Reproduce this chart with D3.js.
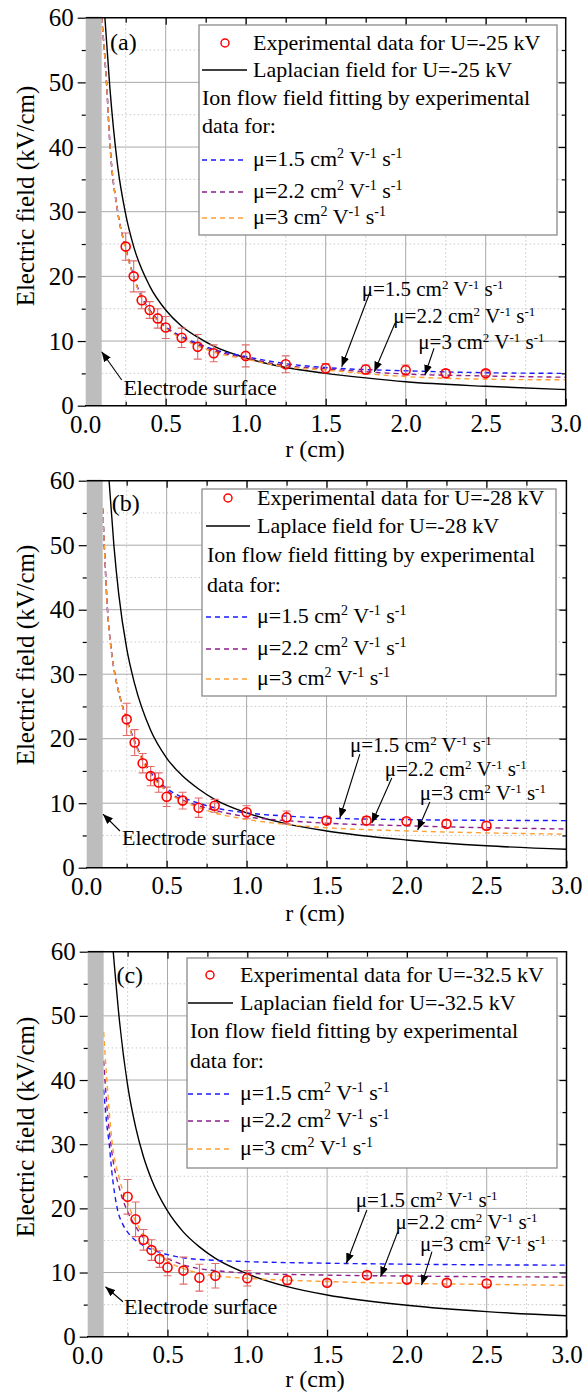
<!DOCTYPE html>
<html>
<head>
<meta charset="utf-8">
<script src="https://cdnjs.cloudflare.com/ajax/libs/d3/7.8.5/d3.min.js"></script>
<style>
body { margin: 0; background: #fff; }
text { font-family: "Liberation Serif", "Times New Roman", serif; fill: #000; white-space: pre; }
</style>
</head>
<body>
<script>
const W = 584, H = 1393;

// ticks
const xMajor = [0, 0.5, 1.0, 1.5, 2.0, 2.5, 3.0];
const xMinor = [0.25, 0.75, 1.25, 1.75, 2.25, 2.75];
const yMajor = [0, 10, 20, 30, 40, 50, 60];
const yMinor = [5, 15, 25, 35, 45, 55];

// experimental points (same radii in all three panels)
const rExp = [0.25, 0.3, 0.35, 0.4, 0.45, 0.5, 0.6, 0.7, 0.8, 1.0, 1.25, 1.5, 1.75, 2.0, 2.25, 2.5];
const expA = [24.6, 20.0, 16.3, 14.8, 13.5, 12.1, 10.5, 9.1, 8.1, 7.7, 6.4, 5.8, 5.6, 5.5, 5.0, 5.0];
const errA = [2.1, 2.4, 1.3, 1.3, 1.5, 1.7, 1.5, 1.9, 1.3, 1.7, 1.3, 0.7, 0.7, 0.8, 0.6, 0.4];
const expB = [23.0, 19.4, 16.2, 14.2, 13.2, 11.0, 10.4, 9.3, 9.6, 8.6, 7.8, 7.3, 7.3, 7.2, 6.8, 6.5];
const errB = [2.5, 2.0, 1.5, 1.5, 1.5, 1.5, 1.3, 1.5, 1.0, 1.0, 1.0, 0.6, 0.6, 0.5, 0.6, 0.6];
const expC = [21.8, 18.3, 15.1, 13.5, 12.1, 10.8, 10.3, 9.2, 9.5, 9.1, 8.8, 8.4, 9.6, 8.9, 8.4, 8.3];
const errC = [2.7, 2.7, 1.6, 1.6, 1.3, 1.3, 2.1, 2.1, 1.9, 1.2, 0.6, 0.5, 0.5, 0.5, 0.5, 0.5];

// Laplacian field curves
const lapRA = [0.12, 0.15, 0.2, 0.25, 0.3, 0.4, 0.5, 0.6, 0.7, 0.8, 1.0, 1.25, 1.5, 1.75, 2.0, 2.5, 3.0];
const lapA  = [60, 49.5, 37, 29.6, 24.6, 18.5, 14.8, 12.3, 10.6, 9.2, 7.4, 5.9, 5.0, 4.3, 3.7, 3.0, 2.5];
const lapRB = [0.14, 0.17, 0.2, 0.25, 0.3, 0.4, 0.5, 0.6, 0.7, 0.8, 1.0, 1.25, 1.5, 2.0, 2.5, 3.0];
const lapB  = [60, 50, 42.5, 34, 28.5, 21.3, 17.0, 14.2, 12.2, 10.6, 8.5, 6.8, 5.7, 4.3, 3.4, 2.85];
const lapRC = [0.16, 0.2, 0.25, 0.3, 0.35, 0.4, 0.5, 0.6, 0.7, 0.8, 1.0, 1.25, 1.5, 2.0, 2.5, 3.0];
const lapC  = [60, 49, 39.2, 32.7, 28, 24.5, 19.6, 16.3, 14, 12.2, 9.8, 7.8, 6.5, 4.9, 3.9, 3.27];

// ion flow fits, mu = 1.5 / 2.2 / 3
const fitRA  = [0.1, 0.13, 0.15, 0.2, 0.25, 0.3, 0.35, 0.4, 0.5, 0.6, 0.7, 0.8, 1.0, 1.25, 1.5, 2.0, 2.5, 3.0];
const fit15A = [60, 50, 41, 30, 24.4, 20.0, 16.8, 14.8, 12.2, 10.7, 9.6, 8.7, 7.6, 6.5, 5.9, 5.4, 5.1, 5.0];
const fit22A = [60, 50, 41, 30, 24.3, 19.9, 16.7, 14.7, 12.1, 10.5, 9.4, 8.5, 7.4, 6.2, 5.7, 4.9, 4.6, 4.4];
const fit3A  = [60, 50, 41, 30, 24.2, 19.8, 16.6, 14.6, 12.0, 10.4, 9.2, 8.3, 7.2, 6.0, 5.5, 4.5, 4.1, 4.0];

const fitRB  = [0.1, 0.11, 0.13, 0.15, 0.18, 0.21, 0.25, 0.3, 0.35, 0.4, 0.5, 0.6, 0.7, 0.8, 1.0, 1.25, 1.5, 2.0, 2.5, 3.0];
const fit15B = [55.7, 50, 40, 34.5, 29.5, 26.3, 23.0, 19.6, 16.8, 14.8, 12.3, 10.9, 10.0, 9.3, 8.5, 8.0, 7.7, 7.45, 7.35, 7.3];
const fit22B = [55.7, 50, 40, 34.5, 29.5, 26.3, 22.9, 19.5, 16.6, 14.6, 12.0, 10.5, 9.6, 8.9, 7.9, 7.3, 6.9, 6.5, 6.2, 6.0];
const fit3B  = [55.7, 50, 40, 34.5, 29.5, 26.3, 22.8, 19.4, 16.5, 14.5, 11.8, 10.3, 9.3, 8.5, 7.5, 6.7, 6.2, 5.7, 5.4, 5.2];

const fitR15C = [0.1, 0.12, 0.135, 0.15, 0.185, 0.22, 0.25, 0.3, 0.35, 0.4, 0.5, 0.6, 0.8, 1.0, 1.5, 2.0, 2.5, 3.0];
const fit15C  = [38.5, 33, 30, 26, 20, 17.5, 16.3, 15.0, 14.2, 13.6, 12.8, 12.3, 11.9, 11.7, 11.45, 11.3, 11.2, 11.15];
const fitR22C = [0.1, 0.12, 0.15, 0.2, 0.25, 0.3, 0.35, 0.4, 0.5, 0.6, 0.7, 0.8, 1.0, 1.5, 2.0, 2.5, 3.0];
const fit22C  = [43, 36, 29, 23, 19.5, 17.2, 15.4, 14.0, 12.2, 11.2, 10.6, 10.3, 9.9, 9.6, 9.45, 9.35, 9.3];
const fitR3C  = [0.1, 0.12, 0.15, 0.2, 0.25, 0.3, 0.35, 0.4, 0.5, 0.6, 0.7, 0.8, 1.0, 1.25, 1.5, 2.0, 2.5, 3.0];
const fit3C   = [47.5, 40, 31, 24.5, 20.8, 18.0, 15.8, 14.0, 11.8, 10.6, 9.9, 9.5, 9.1, 8.8, 8.6, 8.3, 8.15, 8.0];

const mobility = ['1.5', '2.2', '3'];
const fitColors = ['#1a1aff', '#8b1f8b', '#ffa033'];

const panels = [
  { tag: '(a)', tagAt: [0.1525, 55], U: '-25', lapName: 'Laplacian',
    exp: expA, err: errA, lap: [lapRA, lapA],
    fits: [[fitRA, fit15A], [fitRA, fit22A], [fitRA, fit3A]],
    muText: [[1.725, 16.95], [1.9225, 12.79], [2.079, 8.77]],
    muFrom: [[1.777, 17.58], [1.933, 12.74], [2.177, 8.88]],
    muTo:   [[1.6, 6.03], [1.804, 5.26], [2.12, 4.75]],
    elText: [0.2356, 1.65], elFrom: [0.225, 3.97], elTo: [0.1, 8.35],
    box: { l: 85.7, r: 565.7, t: 17.7, b: 405.7 }, xTitleY: 457, yTitleY: 196,
    leg: { x: 199, y: 25, w: 358, h: 210, rows: [25, 52, 80, 108, 141, 173, 199], mk: 26, l0: 3, l1: 48, tx: 54, ion: 3 } },
  { tag: '(b)', tagAt: [0.156, 55.3], U: '-28', lapName: 'Laplace',
    exp: expB, err: errB, lap: [lapRB, lapB],
    fits: [[fitRB, fit15B], [fitRB, fit22B], [fitRB, fit3B]],
    muText: [[1.646, 17.94], [1.864, 14.23], [2.083, 10.5]],
    muFrom: [[1.708, 17.6], [1.908, 13.9], [2.146, 10.19]],
    muTo:   [[1.583, 7.7], [1.783, 6.93], [2.07, 5.84]],
    elText: [0.2206, 3.53], elFrom: [0.208, 5.69], elTo: [0.102, 8.3],
    box: { l: 86.7, r: 566.4, t: 480.7, b: 867.7 }, xTitleY: 921, yTitleY: 655,
    leg: { x: 202, y: 489, w: 354, h: 207, rows: [16, 44, 73, 103, 134, 166, 196], mk: 26, l0: 4, l1: 48, tx: 55, ion: 5 } },
  { tag: '(c)', tagAt: [0.18, 55.1], U: '-32.5', lapName: 'Laplacian',
    exp: expC, err: errC, lap: [lapRC, lapC],
    fits: [[fitR15C, fit15C], [fitR22C, fit22C], [fitR3C, fit3C]],
    muText: [[1.679, 20.21], [1.929, 16.78], [2.082, 13.36]],
    muFrom: [[1.749, 19.74], [1.943, 16.36], [2.157, 13.25]],
    muTo:   [[1.621, 11.44], [1.835, 9.35], [2.092, 8.06]],
    elText: [0.227, 3.54], elFrom: [0.221, 5.45], elTo: [0.111, 7.79],
    box: { l: 87.7, r: 566.5, t: 951.7, b: 1336.7 }, xTitleY: 1387, yTitleY: 1127,
    leg: { x: 187, y: 958, w: 370, h: 210, rows: [24, 52, 80, 110, 142, 169, 197], mk: 23, l0: 1, l1: 46, tx: 53, ion: 3 } }
];

const svg = d3.select('body').append('svg').attr('width', W).attr('height', H);
svg.append('defs').append('marker')
  .attr('id', 'arrow').attr('viewBox', '0 0 10 8').attr('refX', 10).attr('refY', 4)
  .attr('markerWidth', 10).attr('markerHeight', 8).attr('markerUnits', 'userSpaceOnUse')
  .attr('orient', 'auto')
  .append('path').attr('d', 'M0,0L10,4L0,8Z').attr('fill', '#000');

// "mu=1.5 cm2 V-1 s-1" with superscripts
function muLabel(t, val, size) {
  const parts = [['μ=' + val + ' cm', 0], ['2', 1], [' V', 0], ['-1', 1], [' s', 0], ['-1', 1]];
  const sh = Math.round(size * 0.35);
  let up = false;
  parts.forEach(([s, sup]) => {
    const ts = t.append('tspan').text(s);
    if (sup) { ts.attr('font-size', Math.round(size * 0.64)).attr('dy', up ? 0 : -sh); up = true; }
    else { ts.attr('dy', up ? sh : 0); up = false; }
  });
}

function drawPanel(p, i) {
  const x = d3.scaleLinear().domain([0, 3]).range([p.box.l, p.box.r]);
  const y = d3.scaleLinear().domain([0, 60]).range([p.box.b, p.box.t]);
  const g = svg.append('g');
  const clipId = 'clip' + i;
  svg.select('defs').append('clipPath').attr('id', clipId)
    .append('rect').attr('x', x(0)).attr('y', y(60)).attr('width', x(3) - x(0)).attr('height', y(0) - y(60));

  // grid
  g.selectAll(null).data(xMinor).join('line')
    .attr('x1', d => x(d)).attr('x2', d => x(d)).attr('y1', y(0)).attr('y2', y(60))
    .attr('stroke', '#c8c8c8').attr('stroke-dasharray', '1.5,2.5');
  g.selectAll(null).data(yMinor).join('line')
    .attr('x1', x(0)).attr('x2', x(3)).attr('y1', d => y(d)).attr('y2', d => y(d))
    .attr('stroke', '#c8c8c8').attr('stroke-dasharray', '1.5,2.5');
  g.selectAll(null).data(xMajor.slice(1, -1)).join('line')
    .attr('x1', d => x(d)).attr('x2', d => x(d)).attr('y1', y(0)).attr('y2', y(60))
    .attr('stroke', '#a9a9a9').attr('stroke-width', 1);
  g.selectAll(null).data(yMajor.slice(1, -1)).join('line')
    .attr('x1', x(0)).attr('x2', x(3)).attr('y1', d => y(d)).attr('y2', d => y(d))
    .attr('stroke', '#a9a9a9').attr('stroke-width', 1);

  const line = d3.line().x(d => x(d[0])).y(d => y(d[1])).curve(d3.curveMonotoneX);
  const plot = g.append('g').attr('clip-path', `url(#${clipId})`);

  plot.append('path').attr('d', line(d3.zip(p.lap[0], p.lap[1])))
    .attr('fill', 'none').attr('stroke', '#000').attr('stroke-width', 1.4);
  p.fits.forEach((f, k) => {
    plot.append('path').attr('d', line(d3.zip(f[0], f[1])))
      .attr('fill', 'none').attr('stroke', fitColors[k]).attr('stroke-width', 1.4)
      .attr('stroke-dasharray', '5,4');
  });

  // error bars and points
  const pts = rExp.map((r, k) => ({ r, e: p.exp[k], s: p.err[k] }));
  const eb = plot.append('g').attr('stroke', '#e06a6a').attr('stroke-width', 1.1);
  eb.selectAll(null).data(pts).join('line')
    .attr('x1', d => x(d.r)).attr('x2', d => x(d.r))
    .attr('y1', d => y(d.e - d.s)).attr('y2', d => y(d.e + d.s));
  [1, -1].forEach(sg => {
    eb.selectAll(null).data(pts).join('line')
      .attr('x1', d => x(d.r) - 4).attr('x2', d => x(d.r) + 4)
      .attr('y1', d => y(d.e + sg * d.s)).attr('y2', d => y(d.e + sg * d.s));
  });
  plot.selectAll(null).data(pts).join('circle')
    .attr('cx', d => x(d.r)).attr('cy', d => y(d.e)).attr('r', 4.5)
    .attr('fill', 'none').attr('stroke', '#ff0000').attr('stroke-width', 1.6);

  // electrode (r < 0.1 cm)
  g.append('rect').attr('x', x(0)).attr('y', y(60) - 1).attr('width', x(0.1) - x(0))
    .attr('height', y(0) - y(60) + 1).attr('fill', '#bdbdbd');

  // frame
  const fr = g.append('g').attr('stroke', '#000').attr('stroke-width', 1.5);
  fr.append('line').attr('x1', x(0) - 0.7).attr('x2', x(3) + 0.7).attr('y1', y(0)).attr('y2', y(0));
  fr.append('line').attr('x1', x(0)).attr('x2', x(3) + 0.7).attr('y1', y(60)).attr('y2', y(60));
  fr.append('line').attr('x1', x(3)).attr('x2', x(3)).attr('y1', y(60)).attr('y2', y(0));

  // axes
  const font = a => a.attr('font-family', '"Liberation Serif", "Times New Roman", serif').attr('font-size', 25);
  const clean = a => { a.select('.domain').remove(); a.selectAll('.tick line').attr('stroke-width', 1.2); };
  g.append('g').attr('transform', `translate(${x(0)},0)`)
    .call(d3.axisLeft(y).tickValues(yMajor).tickSize(8).tickPadding(4).tickFormat(d3.format('d')))
    .call(clean).call(font);
  g.append('g').attr('transform', `translate(${x(0)},0)`)
    .call(d3.axisLeft(y).tickValues(yMinor).tickSize(4).tickFormat('')).call(clean);
  g.append('g').attr('transform', `translate(0,${y(0)})`)
    .call(d3.axisBottom(x).tickValues(xMajor.slice(1)).tickSizeInner(-7).tickSizeOuter(0).tickPadding(9).tickFormat(d3.format('.1f')))
    .call(clean).call(font);
  g.append('text').attr('x', x(0)).attr('y', y(0) + 27).attr('text-anchor', 'middle')
    .attr('font-size', 25).text('0.0');
  g.append('g').attr('transform', `translate(0,${y(0)})`)
    .call(d3.axisBottom(x).tickValues(xMinor).tickSizeInner(-4).tickSizeOuter(0).tickFormat('')).call(clean);
  g.append('g').attr('transform', `translate(0,${y(60)})`)
    .call(d3.axisTop(x).tickValues(xMajor.slice(1, -1)).tickSizeInner(-7).tickSizeOuter(0).tickFormat('')).call(clean);
  g.append('g').attr('transform', `translate(0,${y(60)})`)
    .call(d3.axisTop(x).tickValues(xMinor).tickSizeInner(-5).tickSizeOuter(0).tickFormat('')).call(clean);
  g.append('g').attr('transform', `translate(${x(3)},0)`)
    .call(d3.axisRight(y).tickValues(yMajor.slice(1, -1)).tickSizeInner(-7).tickSizeOuter(0).tickFormat('')).call(clean);
  g.append('g').attr('transform', `translate(${x(3)},0)`)
    .call(d3.axisRight(y).tickValues(yMinor).tickSizeInner(-4).tickSizeOuter(0).tickFormat('')).call(clean);

  // titles
  g.append('text').attr('x', 315).attr('y', p.xTitleY).attr('text-anchor', 'middle')
    .attr('font-size', 24).text('r (cm)');
  g.append('text').attr('transform', `translate(25,${p.yTitleY}) rotate(-90)`)
    .attr('text-anchor', 'middle').attr('dominant-baseline', 'central')
    .attr('font-size', 25).text('Electric field (kV/cm)');
  g.append('text').attr('x', x(p.tagAt[0])).attr('y', y(p.tagAt[1])).attr('font-size', 24).text(p.tag);

  // legend
  const L = p.leg;
  const lg = g.append('g').attr('transform', `translate(${L.x},${L.y})`);
  lg.append('rect').attr('width', L.w).attr('height', L.h).attr('fill', '#fff')
    .attr('stroke', '#8a8a8a').attr('stroke-width', 1.3);
  const tx = (row, xx) => lg.append('text').attr('x', xx).attr('y', L.rows[row]).attr('font-size', 22);
  lg.append('circle').attr('cx', L.mk).attr('cy', L.rows[0] - 7).attr('r', 4)
    .attr('fill', 'none').attr('stroke', '#ff0000').attr('stroke-width', 1.5);
  tx(0, L.tx).text(`Experimental data for U=${p.U} kV`);
  lg.append('line').attr('x1', L.l0).attr('x2', L.l1).attr('y1', L.rows[1] - 7).attr('y2', L.rows[1] - 7)
    .attr('stroke', '#000').attr('stroke-width', 1.4);
  tx(1, L.tx).text(`${p.lapName} field for U=${p.U} kV`);
  tx(2, L.ion).text('Ion flow field fitting by experimental');
  tx(3, L.ion).text('data for:');
  mobility.forEach((m, k) => {
    lg.append('line').attr('x1', L.l0).attr('x2', L.l1).attr('y1', L.rows[4 + k] - 6).attr('y2', L.rows[4 + k] - 6)
      .attr('stroke', fitColors[k]).attr('stroke-width', 1.4).attr('stroke-dasharray', '5,4');
    muLabel(tx(4 + k, L.tx), m, 22);
  });

  // curve annotations
  mobility.forEach((m, k) => {
    muLabel(g.append('text').attr('x', x(p.muText[k][0])).attr('y', y(p.muText[k][1])).attr('font-size', 21), m, 21);
    g.append('line')
      .attr('x1', x(p.muFrom[k][0])).attr('y1', y(p.muFrom[k][1]))
      .attr('x2', x(p.muTo[k][0])).attr('y2', y(p.muTo[k][1]))
      .attr('stroke', '#000').attr('stroke-width', 1.1).attr('marker-end', 'url(#arrow)');
  });
  g.append('text').attr('x', x(p.elText[0])).attr('y', y(p.elText[1])).attr('font-size', 22).text('Electrode surface');
  g.append('line')
    .attr('x1', x(p.elFrom[0])).attr('y1', y(p.elFrom[1]))
    .attr('x2', x(p.elTo[0])).attr('y2', y(p.elTo[1]))
    .attr('stroke', '#000').attr('stroke-width', 1.1).attr('marker-end', 'url(#arrow)');
}

panels.forEach(drawPanel);
</script>
</body>
</html>
